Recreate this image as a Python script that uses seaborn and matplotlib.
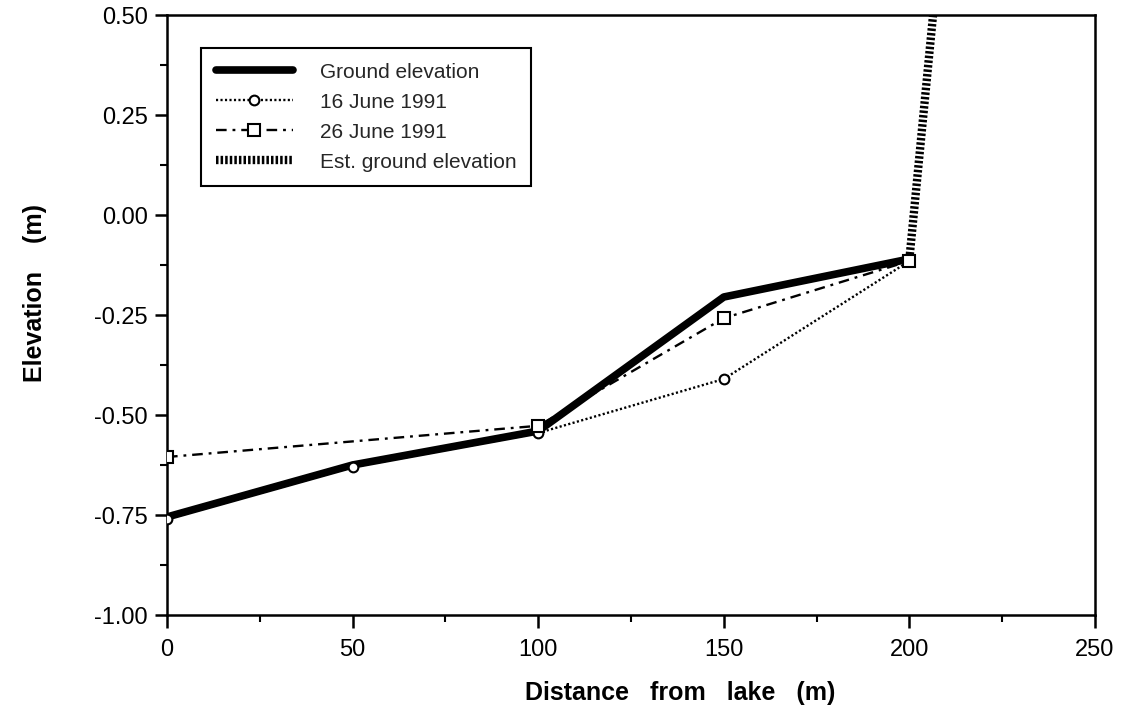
import matplotlib
matplotlib.use("Agg")
import matplotlib.pyplot as plt
from matplotlib.ticker import MultipleLocator, FixedLocator
import seaborn as sns
import pandas as pd

# Data
ground_x = [0, 50, 100, 150, 200]
ground_y = [-0.755, -0.625, -0.54, -0.205, -0.11]
june16_x = [0, 50, 100, 150, 200]
june16_y = [-0.76, -0.63, -0.545, -0.41, -0.115]
june26_x = [0, 100, 150, 200]
june26_y = [-0.605, -0.527, -0.258, -0.115]
est_x = [200, 207]
est_y = [-0.11, 0.56]

x_ticks = [0, 50, 100, 150, 200, 250]
y_ticks = [-1.00, -0.75, -0.50, -0.25, 0.00, 0.25, 0.50]

sns.set_theme(style="ticks")
plt.rcParams['font.family'] = ['Liberation Sans', 'DejaVu Sans']

fig = plt.figure(figsize=(11.26, 7.23), dpi=100)
ax = fig.add_axes([167/1126, 1 - 615/723, (1095-167)/1126, 600/723])

sns.lineplot(x=ground_x, y=ground_y, ax=ax, color="black", linewidth=5.5,
             label="Ground elevation", zorder=2)
sns.lineplot(x=june16_x, y=june16_y, ax=ax, color="black", linewidth=1.7,
             linestyle=(0, (0.9, 1.0)), marker="o", markersize=7,
             markerfacecolor="white", markeredgecolor="black", markeredgewidth=1.5,
             label="16 June 1991", zorder=3)
sns.lineplot(x=june26_x, y=june26_y, ax=ax, color="black", linewidth=1.7,
             linestyle=(0, (4.5, 2.5, 1.2, 2.5)), marker="s", markersize=8,
             markerfacecolor="white", markeredgecolor="black", markeredgewidth=1.5,
             label="26 June 1991", zorder=3)
sns.lineplot(x=est_x, y=est_y, ax=ax, color="black", linewidth=6,
             linestyle=(0, (0.3, 0.25)), label="Est. ground elevation", zorder=2)

ax.set_xlim(0, 250)
ax.set_ylim(-1.0, 0.5)
ax.xaxis.set_major_locator(FixedLocator(x_ticks))
ax.xaxis.set_minor_locator(MultipleLocator(25))
ax.yaxis.set_major_locator(FixedLocator(y_ticks))
ax.yaxis.set_minor_locator(MultipleLocator(0.125))
ax.set_xticklabels([str(v) for v in x_ticks])
ax.set_yticklabels([f"{v:.2f}" for v in y_ticks])

for side in ["left", "right", "top", "bottom"]:
    ax.spines[side].set_visible(True)
    ax.spines[side].set_color("black")
    ax.spines[side].set_linewidth(1.8)

ax.tick_params(axis="both", which="major", direction="out", length=9, width=1.8,
               color="black", labelsize=17, labelcolor="black")
ax.tick_params(axis="x", which="major", pad=8)
ax.tick_params(axis="y", which="major", pad=5)
ax.tick_params(axis="both", which="minor", direction="out", length=5, width=1.5,
               color="black")
ax.tick_params(top=False, right=False, which="both")

ax.set_xlabel("Distance   from   lake   (m)", fontsize=18, fontweight="bold",
              color="black")
ax.set_ylabel("Elevation    (m)", fontsize=18, fontweight="bold", color="black")
ax.xaxis.set_label_coords(0.553, -0.11)
ax.yaxis.set_label_coords(-0.129, 0.537)

leg = ax.legend(loc="upper left", bbox_to_anchor=(0.037, 0.945), fontsize=15,
                frameon=True, fancybox=False, shadow=False, handlelength=3.7,
                handletextpad=1.3, labelspacing=0.53, borderpad=0.7,
                borderaxespad=0)
leg.get_frame().set_edgecolor("black")
leg.get_frame().set_linewidth(1.5)
leg.get_frame().set_facecolor("white")
leg.get_frame().set_alpha(1)

fig.savefig("out.png", dpi=100)
